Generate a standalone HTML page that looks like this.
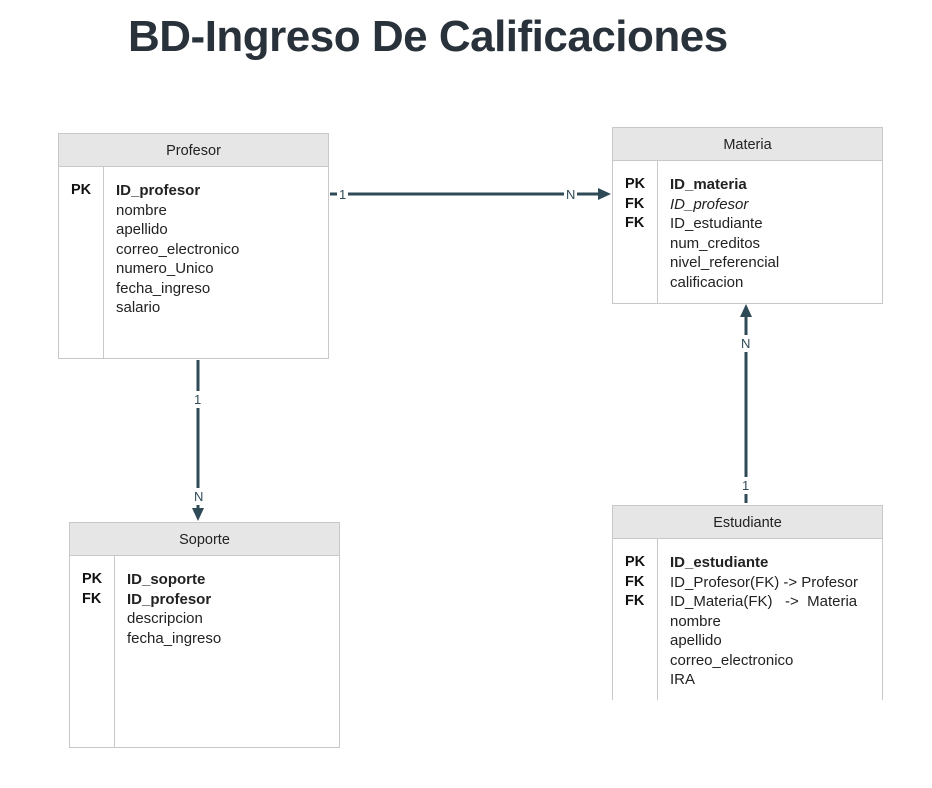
<!DOCTYPE html>
<html><head><style>
body{margin:0;width:932px;height:788px;background:#fff;position:relative;font-family:"Liberation Sans",Arial,sans-serif;overflow:hidden}
.t{position:absolute;left:128px;top:12px;font-size:44px;font-weight:bold;color:#29313b;letter-spacing:-0.5px}
.box{position:absolute;border:1px solid #c8c8c8;background:#fff}
.hd{height:32px;background:#e6e6e6;border-bottom:1px solid #c8c8c8;text-align:center;line-height:34px;font-size:14.5px;color:#222}
.dv{position:absolute;top:33px;bottom:0;left:44px;border-left:1px solid #c8c8c8}
.k{position:absolute;left:12px;top:47px;font-size:14.5px;font-weight:bold;line-height:19.5px;color:#111}
.f{position:absolute;left:57px;top:47px;font-size:15px;line-height:19.5px;color:#222;white-space:pre}
.lb{position:absolute;font-size:13px;color:#2f4a57;background:#fff;line-height:13px}
</style></head><body>
<div class="t">BD-Ingreso De Calificaciones</div>

<div class="box" style="left:58px;top:133px;width:269px;height:224px">
<div class="hd">Profesor</div><div class="dv"></div>
<div class="k">PK</div>
<div class="f"><b>ID_profesor</b>
nombre
apellido
correo_electronico
numero_Unico
fecha_ingreso
salario</div></div>

<div class="box" style="left:612px;top:127px;width:269px;height:175px">
<div class="hd">Materia</div><div class="dv"></div>
<div class="k">PK<br>FK<br>FK</div>
<div class="f"><b>ID_materia</b>
<i>ID_profesor</i>
ID_estudiante
num_creditos
nivel_referencial
calificacion</div></div>

<div class="box" style="left:69px;top:522px;width:269px;height:224px">
<div class="hd">Soporte</div><div class="dv"></div>
<div class="k">PK<br>FK</div>
<div class="f"><b>ID_soporte</b>
<b>ID_profesor</b>
descripcion
fecha_ingreso</div></div>

<div class="box" style="left:612px;top:505px;width:269px;height:200px;border-bottom:none">
<div class="hd">Estudiante</div><div class="dv"></div>
<div class="k">PK<br>FK<br>FK</div>
<div class="f"><b>ID_estudiante</b>
ID_Profesor(FK) -&gt; Profesor
ID_Materia(FK)   -&gt;  Materia
nombre
apellido
correo_electronico
IRA</div></div>
<div style="position:absolute;left:612px;top:700px;width:290px;height:20px;background:#fff"></div>

<svg width="932" height="788" style="position:absolute;left:0;top:0">
<g stroke="#2f4a57" stroke-width="3" fill="none">
<line x1="330" y1="194" x2="600" y2="194"/>
<line x1="198" y1="360" x2="198" y2="510"/>
<line x1="746" y1="503" x2="746" y2="315"/>
</g>
<g fill="#2f4a57">
<polygon points="611,194 598,188 598,200"/>
<polygon points="198,521 192,508 204,508"/>
<polygon points="746,304 740,317 752,317"/>
</g>
</svg>
<div class="lb" style="left:337px;top:188px;padding:0 2px">1</div>
<div class="lb" style="left:564px;top:188px;padding:0 2px">N</div>
<div class="lb" style="left:194px;top:391px;padding:2px 0">1</div>
<div class="lb" style="left:194px;top:488px;padding:2px 0">N</div>
<div class="lb" style="left:741px;top:335px;padding:2px 0">N</div>
<div class="lb" style="left:742px;top:477px;padding:2px 0">1</div>
</body></html>
